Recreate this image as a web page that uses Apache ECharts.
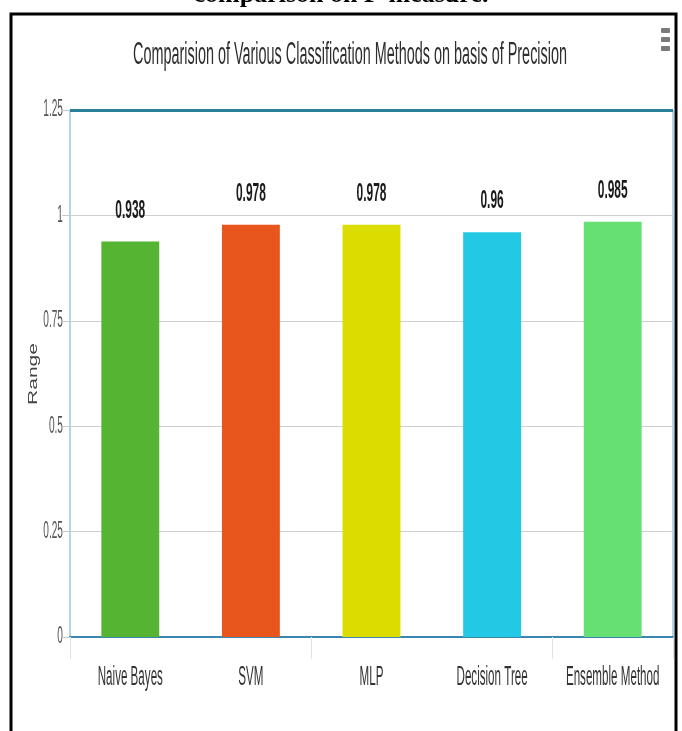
<!DOCTYPE html>
<html><head><meta charset="utf-8">
<script src="https://cdn.jsdelivr.net/npm/echarts@6/dist/echarts.min.js"></script>
<style>html,body{margin:0;padding:0;background:#fff}#c{width:682px;height:731px}</style>
</head><body><div id="c"></div>
<script>
var categories = ['Naive Bayes', 'SVM', 'MLP', 'Decision Tree', 'Ensemble Method'];
var values = [0.938, 0.978, 0.978, 0.96, 0.985];
var valueLabels = ['0.938', '0.978', '0.978', '0.96', '0.985'];
var yTicks = [0, 0.25, 0.5, 0.75, 1, 1.25];
var yTickLabels = ['0', '0.25', '0.5', '0.75', '1', '1.25'];
var barColors = ['#55b432', '#e8561e', '#dcdc00', '#22c8e4', '#66e072'];
var titleText = 'Comparision of Various Classification Methods on basis of Precision';
var captionText = 'comparison on F-measure.';
var yName = 'Range';
var SF = '"Liberation Sans", Arial, sans-serif';

var chart = echarts.init(document.getElementById('c'));
chart.setOption({
  animation: false,
  backgroundColor: '#fff',
  grid: {left: 70, right: 9, top: 110, bottom: 94, show: true, borderColor: '#6aa9c8', borderWidth: 1,
    outerBoundsMode: 'none', containLabel: false},
  xAxis: {
    type: 'category', data: categories,
    axisLine: {show: true, lineStyle: {color: '#3a86b0', width: 2}},
    axisTick: {show: true, length: 22, lineStyle: {color: '#e2e2e2'}},
    axisLabel: {show: false}
  },
  yAxis: {
    type: 'value', min: 0, max: 1.25, interval: 0.25,
    axisLine: {show: false},
    axisTick: {show: true, length: 8, lineStyle: {color: '#c8c8c8'}},
    axisLabel: {show: false},
    splitLine: {lineStyle: {color: '#cfcfcf'}}
  },
  series: [{
    type: 'bar', barWidth: '48%',
    data: values.map(function (v, i) { return {value: v, itemStyle: {color: barColors[i]}}; }),
    markLine: {symbol: 'none', silent: true, label: {show: false},
      lineStyle: {color: '#2a7f9a', width: 3, type: 'solid'},
      data: [{yAxis: 1.25}]}
  }]
});

function sq(x, y, text, font, color, sx, align, vAlign) {
  return {type: 'text', x: x, y: y, scaleX: sx, silent: true,
    style: {text: text, font: font, fill: color, align: align || 'center', verticalAlign: vAlign || 'middle'}};
}

var g = [];
// caption clipped at top
g.push({type: 'text', x: 341, y: 8, silent: true,
  style: {text: captionText, font: 'bold 26px "Liberation Serif", "Times New Roman", serif', fill: '#000',
    align: 'center', verticalAlign: 'bottom'}});
// frame
g.push({type: 'rect', silent: true, shape: {x: 11, y: 14, width: 665, height: 740},
  style: {fill: 'none', stroke: '#000', lineWidth: 3}});
// menu icon
[0, 9, 18].forEach(function (dy) {
  g.push({type: 'rect', silent: true, shape: {x: 661, y: 28 + dy, width: 9, height: 5, r: 1}, style: {fill: '#7a7a7a'}});
});
// title
g.push(sq(350, 55, titleText, '31px ' + SF, '#2e2e2e', 0.465));
// y axis name (rotated)
g.push({type: 'text', x: 33, y: 374, rotation: Math.PI / 2, scaleY: 0.65, silent: true,
  style: {text: yName, font: '21px ' + SF, fill: '#444', align: 'center', verticalAlign: 'middle'}});
// y tick labels
yTicks.forEach(function (t, i) {
  var p = chart.convertToPixel({gridIndex: 0}, [0, t]);
  g.push(sq(63, p[1], yTickLabels[i], '23px ' + SF, '#555', 0.44, 'right', 'middle'));
});
// x category labels
categories.forEach(function (c, i) {
  var p = chart.convertToPixel({gridIndex: 0}, [i, 0]);
  g.push(sq(p[0], p[1] + 41, c, '27px ' + SF, '#333', 0.43));
});
// value labels
values.forEach(function (v, i) {
  var p = chart.convertToPixel({gridIndex: 0}, [i, v]);
  g.push(sq(p[0], p[1] - 18, valueLabels[i], 'bold 26px ' + SF, '#1a1a1a', 0.46, 'center', 'bottom'));
});
chart.setOption({graphic: g});
</script></body></html>
